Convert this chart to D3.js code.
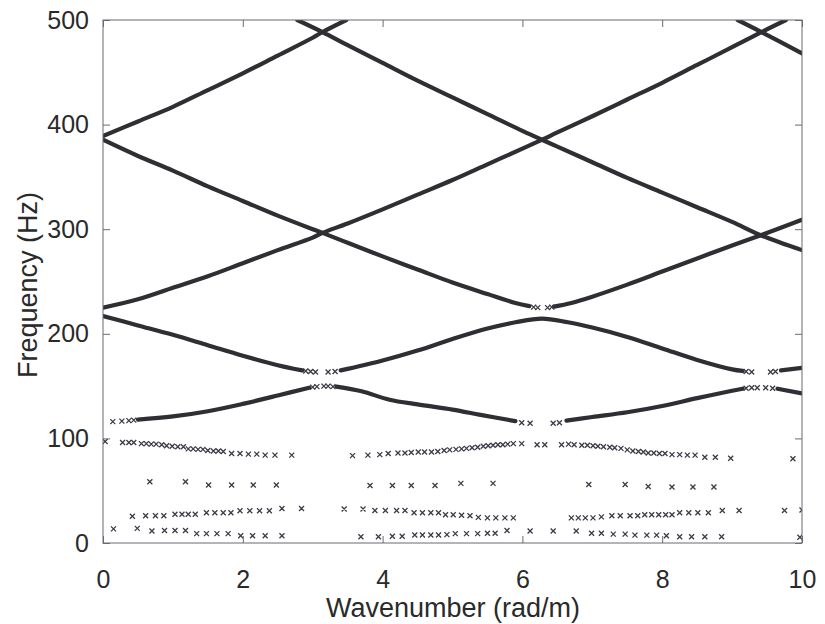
<!DOCTYPE html>
<html>
<head>
<meta charset="utf-8">
<script src="https://cdn.jsdelivr.net/npm/d3@7"></script>
<style>
  html, body { margin: 0; padding: 0; background: #fff; }
  svg { display: block; }
  text { font-family: "Liberation Sans", Arial, Helvetica, sans-serif; fill: #2a2a2a; }
</style>
</head>
<body>
<svg id="chart" width="825" height="624"></svg>
<script>
// ---------- data ----------
const xTicks = [0, 2, 4, 6, 8, 10];
const yTicks = [0, 100, 200, 300, 400, 500];
const xLabel = "Wavenumber (rad/m)";
const yLabel = "Frequency (Hz)";

// dense bands, drawn as thick traces: [wavenumber, frequency]
const bandL1 = [[0,389],[0.5,403],[1,417],[1.5,433],[2,449],[2.5,466],[3,483],[3.14,488.5],[3.48,500]];
const bandL2 = [[2.78,500],[3.14,488.5],[3.5,476],[4,459],[4.5,442],[5,426],[5.5,410],[6,394],[6.28,385.5],[6.5,379],[7,364],[7.5,349],[8,335],[8.5,321],[9,307],[9.42,294],[10,280]];
const bandL3 = [[0,225],[0.5,233],[1,244],[1.5,255],[2,267.5],[2.5,280],[3,292],[3.14,296.5],[3.5,305.5],[4,319],[4.5,333],[5,347],[5.5,362],[6,377],[6.28,385.5],[6.5,392.5],[7,408],[7.5,424],[8,440],[8.5,457],[9,474],[9.42,488.5],[9.77,500]];
const bandL4a = [[0,385.5],[0.5,370],[1,356],[1.5,341],[2,327],[2.5,313],[3,300],[3.14,296.5],[3.5,287],[4,274],[4.5,261.5],[5,249],[5.5,238],[5.9,229.5],[6.1,226.5]];
const bandL4b = [[6.45,226],[6.7,229.5],[7,235.5],[7.5,247],[8,259.5],[8.5,272],[9,284.5],[9.42,294.5],[10,309]];
const bandL7 = [[9.08,500],[9.42,488.5],[10,468]];
const band2a = [[0,217],[0.5,208],[1,199],[1.5,189],[2,179],[2.5,170],[2.85,165]];
const band2b = [[3.4,165],[4,174.5],[4.5,184],[5,195],[5.5,205],[5.9,211],[6.28,214.5],[6.65,211],[7,206],[7.5,197],[8,186],[8.5,175],[9,166],[9.15,164.5]];
const band2c = [[9.7,165],[10,167.5]];
const band1a = [[0.5,118],[1,121],[1.5,126],[2,133],[2.5,141],[2.95,148.5]];
const band1b = [[3.34,149.5],[3.7,145],[4.1,137],[4.5,132.5],[5,127.5],[5.4,122.5],[5.9,116.5]];
const band1c = [[6.63,117],[7,120.5],[7.5,125],[8,131],[8.5,138.5],[9,145.5],[9.15,147.5]];
const band1d = [[9.65,147.5],[10,143]];

// sparse markers at the ends of the bands
const bandEnds = [
  [0.14,116],[0.27,116.5],[0.37,117],[0.44,117.5],
  [3.0,149],[3.06,149.5],[3.16,150],[3.22,150],[3.29,149.5],
  [5.99,115],[6.11,114.5],[6.44,114.5],[6.53,115],
  [9.2,148],[9.28,148.5],[9.36,148.5],[9.48,148.5],[9.58,148],
  [2.9,164.5],[2.97,164],[3.04,163.5],[3.22,163.5],[3.32,164],
  [9.2,164],[9.28,163.5],[9.55,163.5],[9.62,164],
  [6.16,225.5],[6.22,225],[6.36,225],[6.42,225.5]
];

// scattered low-frequency points
const rowA = [[0.03,97],[0.28,96],[0.37,96],[0.44,96],[0.55,95],[0.62,95],[0.69,94.5],[0.76,94.5],[0.84,94],[0.91,93],[0.99,92.5],[1.07,92],[1.15,92],[1.22,90],[1.29,90],[1.36,89.5],[1.43,89.5],[1.5,88.5],[1.58,88],[1.65,88],[1.72,87.5],[1.84,85.5],[1.96,85.5],[2.08,85],[2.2,85],[2.32,84],[2.46,84],[2.7,84],
  [3.57,83.5],[3.79,84],[3.96,84.5],[4.08,85.5],[4.22,86],[4.32,86],[4.41,86.5],[4.51,87],[4.6,87],[4.7,87],[4.79,87.5],[4.88,88.5],[4.96,89],[5.05,89.5],[5.13,90],[5.2,90.5],[5.28,91],[5.36,91.5],[5.44,92.5],[5.51,93],[5.58,93.5],[5.65,94],[5.72,94],[5.79,94.5],[5.87,95],[5.99,95],[6.21,94],[6.32,94],
  [6.56,94],[6.66,94.5],[6.74,94],[6.85,93.5],[6.93,93.5],[7.01,93],[7.08,92.5],[7.16,92],[7.25,91.5],[7.32,91],[7.41,90.5],[7.5,89],[7.58,88],[7.66,87.5],[7.73,87],[7.8,86],[7.88,86],[7.96,85.5],[8.04,85.5],[8.14,84.5],[8.25,84.5],[8.36,84],[8.47,84],[8.61,82],[8.76,82],[8.98,81],[9.87,80.5]];
const rowB = [[0.67,58.5],[1.18,58.5],[1.51,55.5],[1.84,55.5],[2.15,55.5],[2.48,55.5],[3.82,55],[4.14,55],[4.41,55],[4.75,55],[5.12,57],[5.58,57],[6.95,56],[7.47,56],[7.8,54],[8.14,53.5],[8.44,53.5],[8.74,53.5]];
const rowC = [[0.42,25.5],[0.61,26],[0.75,26],[0.87,26],[1.03,27.5],[1.13,27.5],[1.22,27.5],[1.32,27.5],[1.48,29],[1.6,29],[1.72,29],[1.83,29],[1.96,30.8],[2.1,30.8],[2.24,30.8],[2.38,30.8],[2.56,33],[2.84,33],
  [3.45,32.5],[3.72,32.5],[3.89,31],[4.04,31],[4.2,31],[4.32,31],[4.45,29],[4.57,29],[4.69,29],[4.8,29],[4.9,27],[5.01,27],[5.13,26.5],[5.25,26],[5.37,24.5],[5.5,24],[5.62,24],[5.75,24],[5.87,24],
  [6.7,24],[6.8,24],[6.9,24],[7.01,24],[7.13,25],[7.28,26],[7.4,26],[7.54,26],[7.65,26],[7.75,27],[7.85,27],[7.95,27],[8.05,27],[8.14,27],[8.25,29],[8.38,29],[8.51,29],[8.66,29],[8.86,31],[9.1,31],[9.75,31],[10,31.5]];
const rowD = [[0.15,13.5],[0.49,14],[0.7,11.5],[0.88,12],[1.03,12],[1.18,12],[1.34,9],[1.48,9],[1.63,9],[1.79,9],[1.97,7],[2.14,7],[2.32,7],[2.56,7],
  [3.69,6],[3.94,6],[4.14,6.5],[4.28,6.5],[4.46,7.7],[4.57,7.7],[4.69,7.7],[4.8,7.7],[4.92,8],[5.04,9],[5.2,9],[5.36,9],[5.5,9.3],[5.61,9.3],[5.78,12],[6.11,11.5],[6.44,11.5],[6.77,11.5],
  [6.99,9.3],[7.13,9.3],[7.3,8.5],[7.47,8.5],[7.61,7.5],[7.78,7.5],[7.92,7.5],[8.06,7],[8.25,6],[8.42,6],[8.61,6],[8.85,6],[9.97,5.5]];

// ---------- drawing ----------
const svg = d3.select("#chart");
const x = d3.scaleLinear().domain([0, 10]).range([103, 802]);
const y = d3.scaleLinear().domain([0, 500]).range([543, 20]);

const plot = svg.append("g");
svg.append("clipPath").attr("id", "clip")
  .append("rect").attr("x", 103).attr("y", 20).attr("width", 699).attr("height", 523);

const line = d3.line().x(d => x(d[0])).y(d => y(d[1])).curve(d3.curveCatmullRom.alpha(0.5));
const bands = [bandL1, bandL2, bandL3, bandL4a, bandL4b, bandL7, band2a, band2b, band2c, band1a, band1b, band1c, band1d];
plot.append("g").attr("clip-path", "url(#clip)")
  .selectAll("path.band").data(bands).join("path")
  .attr("class", "band")
  .attr("d", line)
  .attr("fill", "none")
  .attr("stroke", "#2e2e33")
  .attr("stroke-width", 4.2)
  .attr("stroke-linecap", "round")
  .attr("stroke-linejoin", "round");

const markerPath = "M-2.5,-2.5L2.5,2.5M-2.5,2.5L2.5,-2.5";
const sparse = [].concat(bandEnds, rowA, rowB, rowC, rowD);
plot.append("g").attr("clip-path", "url(#clip)")
  .selectAll("path.pt").data(sparse).join("path")
  .attr("class", "pt")
  .attr("transform", d => `translate(${x(d[0])},${y(d[1])})`)
  .attr("d", markerPath)
  .attr("fill", "none")
  .attr("stroke", "#3b3b48")
  .attr("stroke-width", 1.3);

// axes (box with inward ticks on all four sides)
const axisColor = "#6a6a72";
const tickLen = 7;
function styleAxis(g) {
  g.select(".domain").remove();
  g.selectAll(".tick line").attr("stroke", axisColor).attr("stroke-width", 1);
  g.selectAll(".tick text").style("font-size", "25px").attr("fill", "#2a2a2a");
}
svg.append("g").attr("transform", "translate(0,543)")
  .call(d3.axisBottom(x).tickValues(xTicks).tickFormat(d3.format("d")).tickSizeInner(-tickLen).tickSizeOuter(0).tickPadding(27))
  .call(styleAxis);
svg.append("g").attr("transform", "translate(0,20)")
  .call(d3.axisTop(x).tickValues(xTicks).tickFormat("").tickSizeInner(-tickLen).tickSizeOuter(0))
  .call(styleAxis);
svg.append("g").attr("transform", "translate(103,0)")
  .call(d3.axisLeft(y).tickValues(yTicks).tickFormat(d3.format("d")).tickSizeInner(-tickLen).tickSizeOuter(0).tickPadding(14))
  .call(styleAxis);
svg.append("g").attr("transform", "translate(802,0)")
  .call(d3.axisRight(y).tickValues(yTicks).tickFormat("").tickSizeInner(-tickLen).tickSizeOuter(0))
  .call(styleAxis);

svg.append("rect").attr("x", 103).attr("y", 20).attr("width", 699).attr("height", 523)
  .attr("fill", "none").attr("stroke", axisColor).attr("stroke-width", 1);

svg.append("text").attr("x", 453).attr("y", 617).attr("text-anchor", "middle")
  .style("font-size", "27px").text(xLabel);
svg.append("text").attr("transform", "translate(37,285) rotate(-90)").attr("text-anchor", "middle")
  .style("font-size", "27px").text(yLabel);
</script>
</body>
</html>
